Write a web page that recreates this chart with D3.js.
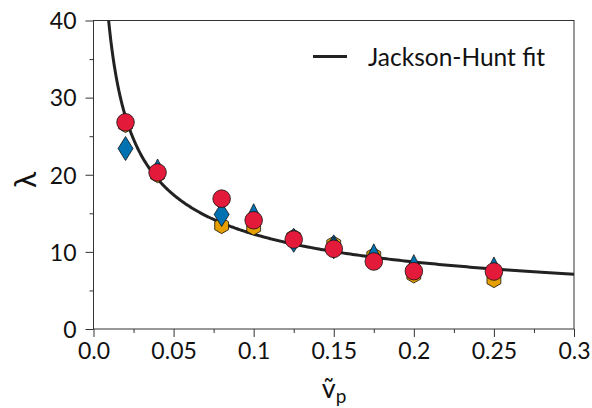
<!DOCTYPE html>
<html><head><meta charset="utf-8">
<script src="https://cdn.jsdelivr.net/npm/d3@7"></script>
<style>
html,body{margin:0;padding:0;background:#fff;}
svg{display:block;}
text{font-family:Lato,"DejaVu Sans",sans-serif;fill:#111;font-weight:400;}
</style></head>
<body>
<svg id="chart" width="592" height="408"></svg>
<script>
// ---- data ----
const xTicks = [0.0, 0.05, 0.1, 0.15, 0.2, 0.25, 0.3];
const xTickLabels = ["0.0", "0.05", "0.1", "0.15", "0.2", "0.25", "0.3"];
const yTicks = [0, 10, 20, 30, 40];
const hexV = [0.02, 0.04, 0.08, 0.1, 0.125, 0.15, 0.175, 0.2, 0.25];
const hexL = [26.5, 20.0, 13.4, 13.2, 11.9, 11.0, 9.5, 7.0, 6.4];
const diamondV = [0.02, 0.08, 0.125, 0.15];
const diamondL = [23.4, 14.85, 11.5, 10.65];
const triV = [0.04, 0.1, 0.15, 0.175, 0.2, 0.25];
const triL = [21.2, 15.4, 11.1, 10.2, 8.8, 8.5];
const circV = [0.02, 0.04, 0.08, 0.1, 0.125, 0.15, 0.175, 0.2, 0.25];
const circL = [26.8, 20.3, 16.9, 14.1, 11.6, 10.4, 8.75, 7.5, 7.45];
// Jackson-Hunt fit: lambda = A * v^(-1/2)
const fitA = 3.89, fitExp = -0.5;
const legendLabel = "Jackson-Hunt fit";

// ---- layout ----
const L = 93.5, R = 574, T = 20.5, B = 329;
const x = d3.scaleLinear().domain([0, 0.3]).range([L, R]);
const y = d3.scaleLinear().domain([0, 40]).range([B, T]);
const svg = d3.select("#chart");

const colors = {hex: "#E69F00", blue: "#0072B2", red: "#E41A3A"};

// frame
svg.append("rect").attr("x", L).attr("y", T).attr("width", R - L).attr("height", B - T)
  .attr("fill", "none").attr("stroke", "#333").attr("stroke-width", 1);

// axes
const xAxis = d3.axisBottom(x).tickValues(xTicks).tickFormat((d, i) => xTickLabels[i]).tickSize(8).tickPadding(6);
const gx = svg.append("g").attr("transform", `translate(0,${B})`).call(xAxis);
const xMinor = d3.axisBottom(x).tickValues(d3.range(0.025, 0.3, 0.05)).tickFormat("").tickSize(4);
const gxm = svg.append("g").attr("transform", `translate(0,${B})`).call(xMinor);
const yAxis = d3.axisLeft(y).tickValues(yTicks).tickSize(8).tickPadding(9);
const gy = svg.append("g").attr("transform", `translate(${L},0)`).call(yAxis);
const yMinor = d3.axisLeft(y).tickValues([5, 15, 25, 35]).tickFormat("").tickSize(4);
const gym = svg.append("g").attr("transform", `translate(${L},0)`).call(yMinor);
[gx, gxm, gy, gym].forEach(g => {
  g.select(".domain").remove();
  g.selectAll("line").attr("stroke", "#333").attr("stroke-width", 1);
  g.selectAll("text").attr("font-size", 23).attr("fill", "#111")
    .style("font-family", "Lato, 'DejaVu Sans', sans-serif").style("font-weight", 400);
});
gy.selectAll("text").attr("dy", "0.36em");

// clip
svg.append("clipPath").attr("id", "clip").append("rect")
  .attr("x", L).attr("y", T).attr("width", R - L).attr("height", B - T);

// fit curve
const vStart = Math.pow(40 / fitA, 1 / fitExp) * 0.98;
const vs = d3.range(0, 401).map(i => vStart * Math.pow(0.3 / vStart, i / 400));
const line = d3.line().x(d => x(d)).y(d => y(fitA * Math.pow(d, fitExp)));
svg.append("path").datum(vs).attr("d", line).attr("clip-path", "url(#clip)")
  .attr("fill", "none").attr("stroke", "#222").attr("stroke-width", 3);

// marker paths
function hexPath(r) {
  const p = d3.path();
  for (let k = 0; k < 6; k++) {
    const a = -Math.PI / 2 + k * Math.PI / 3;
    const px = r * Math.cos(a), py = r * Math.sin(a);
    if (k === 0) p.moveTo(px, py); else p.lineTo(px, py);
  }
  p.closePath();
  return p.toString();
}
function diamondPath(hw, hh) {
  return `M0,${-hh}L${hw},0L0,${hh}L${-hw},0Z`;
}
function triPath(s) {
  return `M0,${-s / 2}L${s / 2},${s / 2}L${-s / 2},${s / 2}Z`;
}
function drawSeries(vArr, lArr, pathStr, fill) {
  svg.append("g").selectAll("path").data(vArr).join("path")
    .attr("d", pathStr)
    .attr("transform", (d, i) => `translate(${x(d)},${y(lArr[i])})`)
    .attr("fill", fill).attr("stroke", "#111").attr("stroke-width", 0.8);
}
drawSeries(hexV, hexL, hexPath(8), colors.hex);
drawSeries(diamondV, diamondL, diamondPath(7.5, 12), colors.blue);
drawSeries(triV, triL, triPath(13), colors.blue);
svg.append("g").selectAll("circle").data(circV).join("circle")
  .attr("cx", d => x(d)).attr("cy", (d, i) => y(circL[i])).attr("r", 8.8)
  .attr("fill", colors.red).attr("stroke", "#111").attr("stroke-width", 0.8);

// legend
svg.append("line").attr("x1", 313).attr("x2", 347).attr("y1", 56.5).attr("y2", 56.5)
  .attr("stroke", "#222").attr("stroke-width", 3);
svg.append("text").attr("x", 368).attr("y", 66).attr("font-size", 24.5).text(legendLabel);

// axis labels
svg.append("text").attr("transform", "translate(36,180) rotate(-90)")
  .attr("text-anchor", "middle").attr("font-size", 30).text("λ");
const xl = svg.append("text").attr("x", 334).attr("y", 398).attr("text-anchor", "middle").attr("font-size", 27);
xl.append("tspan").text("v\u0303");
xl.append("tspan").attr("font-size", 19).attr("dy", 5).text("p");
</script>
</body></html>
